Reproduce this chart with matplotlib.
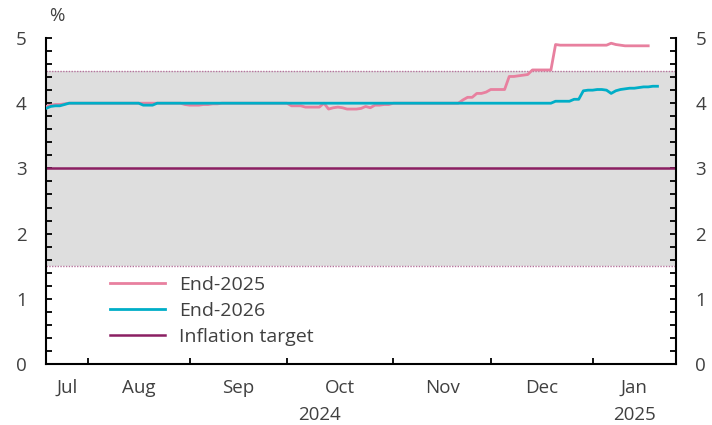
import matplotlib
matplotlib.use("Agg")
import matplotlib.pyplot as plt
import numpy as np
import pandas as pd

plt.rcParams['font.family'] = ['Open Sans', 'DejaVu Sans']

# Business days covered by the survey series
dates = pd.bdate_range('2024-07-19', periods=133)

end_2026 = [
    3.92, 3.95, 3.96, 3.96, 3.98, 4.00, 4.00, 4.00, 4.00, 4.00,
    4.00, 4.00, 4.00, 4.00, 4.00, 4.00, 4.00, 4.00, 4.00, 4.00,
    4.00, 3.97, 3.97, 3.97, 4.00, 4.00, 4.00, 4.00, 4.00, 4.00,
    4.00, 4.00, 4.00, 4.00, 4.00, 4.00, 4.00, 4.00, 4.00, 4.00,
    4.00, 4.00, 4.00, 4.00, 4.00, 4.00, 4.00, 4.00, 4.00, 4.00,
    4.00, 4.00, 4.00, 4.00, 4.00, 4.00, 4.00, 4.00, 4.00, 4.00,
    4.00, 4.00, 4.00, 4.00, 4.00, 4.00, 4.00, 4.00, 4.00, 4.00,
    4.00, 4.00, 4.00, 4.00, 4.00, 4.00, 4.00, 4.00, 4.00, 4.00,
    4.00, 4.00, 4.00, 4.00, 4.00, 4.00, 4.00, 4.00, 4.00, 4.00,
    4.00, 4.00, 4.00, 4.00, 4.00, 4.00, 4.00, 4.00, 4.00, 4.00,
    4.00, 4.00, 4.00, 4.00, 4.00, 4.00, 4.00, 4.00, 4.00, 4.00,
    4.03, 4.03, 4.03, 4.03, 4.06, 4.06, 4.19, 4.20, 4.20, 4.21,
    4.21, 4.20, 4.15, 4.19, 4.21, 4.22, 4.23, 4.23, 4.24, 4.25,
    4.25, 4.26, 4.26,
]

end_2025 = [
    3.95, 3.97, 3.98, 3.98, 3.99, 4.00, 4.00, 4.00, 4.00, 4.00,
    4.00, 4.00, 4.00, 4.00, 4.00, 4.00, 4.00, 4.00, 4.00, 4.00,
    4.00, 4.00, 4.00, 4.00, 4.00, 4.00, 4.00, 4.00, 4.00, 4.00,
    3.98, 3.97, 3.97, 3.97, 3.98, 3.98, 3.99, 3.99, 4.00, 4.00,
    4.00, 4.00, 4.00, 4.00, 4.00, 4.00, 4.00, 4.00, 4.00, 4.00,
    4.00, 4.00, 4.00, 3.96, 3.96, 3.96, 3.94, 3.94, 3.94, 3.94,
    4.00, 3.91, 3.93, 3.94, 3.93, 3.91, 3.91, 3.91, 3.92, 3.95,
    3.93, 3.97, 3.97, 3.98, 3.98, 4.00, 4.00, 4.00, 4.00, 4.00,
    4.00, 4.00, 4.00, 4.00, 4.00, 4.00, 4.00, 4.00, 4.00, 4.00,
    4.05, 4.09, 4.09, 4.15, 4.15, 4.17, 4.21, 4.21, 4.21, 4.21,
    4.41, 4.41, 4.42, 4.43, 4.44, 4.51, 4.51, 4.51, 4.51, 4.51,
    4.90, 4.89, 4.89, 4.89, 4.89, 4.89, 4.89, 4.89, 4.89, 4.89,
    4.89, 4.89, 4.92, 4.90, 4.89, 4.88, 4.88, 4.88, 4.88, 4.88,
    4.88,
]

inflation_target = 3.0
band_low, band_high = 1.5, 4.5

month_labels = ['Jul', 'Aug', 'Sep', 'Oct', 'Nov', 'Dec', 'Jan']
year_labels = ['2024', '2025']

pink = '#E8809F'
teal = '#00AEC7'
plum = '#8B1F62'
text_col = '#404040'
fs = 13.5

idx = np.arange(len(dates))
x_max = 136

fig = plt.figure(figsize=(7.12, 4.25), dpi=100)
ax = fig.add_axes([46 / 712, 1 - 364 / 425, (676 - 46) / 712, (364 - 38) / 425])

ax.axhspan(band_low, band_high, color='#dedede', lw=0, zorder=0)
for lvl in (band_low, band_high):
    ax.axhline(lvl, color='#b5739c', lw=1.0, ls=(0, (1, 1)), zorder=1)

ax.axhline(inflation_target, color=plum, lw=1.8, zorder=2, label='Inflation target')
ax.plot(idx[:len(end_2025)], end_2025, color=pink, lw=2.0, zorder=3, label='End-2025')
ax.plot(idx[:len(end_2026)], end_2026, color=teal, lw=2.0, zorder=4, label='End-2026')

ax.set_xlim(0, x_max)
ax.set_ylim(0, 5)

# Month boundaries fall on the first business day of each month
month_start = dates.to_period('M')
bounds = [i for i in range(1, len(dates)) if month_start[i] != month_start[i - 1]]
edges = [0] + bounds + [x_max]
centers = [(edges[k] + edges[k + 1]) / 2 for k in range(len(edges) - 1)]

ax.set_xticks(bounds)
ax.set_xticklabels([])
ax.set_xticks(centers, minor=True)
ax.set_xticklabels(month_labels, minor=True)
ax.tick_params(axis='x', which='major', direction='in', length=4, width=1.3, color='black')
ax.tick_params(axis='x', which='minor', length=0, pad=11, labelsize=fs, labelcolor=text_col)

ax.set_yticks(np.arange(0, 6, 1))
ax.set_yticks(np.arange(0, 5.01, 0.2), minor=True)
ax.tick_params(axis='y', which='both', direction='in', length=4, width=1.3,
               left=True, right=True, labelleft=True, labelright=True, color='black')
ax.tick_params(axis='y', which='major', pad=14, labelsize=fs, labelcolor=text_col)

for side in ('left', 'right', 'bottom'):
    ax.spines[side].set_linewidth(1.5)
ax.spines['top'].set_visible(False)

# Year labels beneath the months
year_pos = [(edges[0] + edges[-2]) / 2, (edges[-2] + edges[-1]) / 2]
for xp, lab in zip(year_pos, year_labels):
    ax.annotate(lab, xy=(xp, 0), xycoords=('data', 'axes fraction'),
                xytext=(0, -37), textcoords='offset points',
                ha='center', va='center', fontsize=fs, color=text_col)

ax.annotate('%', xy=(0, 1), xycoords='axes fraction', xytext=(8, 16),
            textcoords='offset points', ha='center', va='center',
            fontsize=fs, color=text_col)

handles, labels = ax.get_legend_handles_labels()
order = [1, 2, 0]
ax.legend([handles[i] for i in order], [labels[i] for i in order],
          loc='center left', bbox_to_anchor=(110 / 712, 1 - 311 / 425),
          bbox_transform=fig.transFigure, frameon=False, borderpad=0,
          borderaxespad=0, handlelength=2.85, handletextpad=0.72,
          labelspacing=0.42, fontsize=14, labelcolor=text_col)

fig.savefig('out.png', dpi=100)
